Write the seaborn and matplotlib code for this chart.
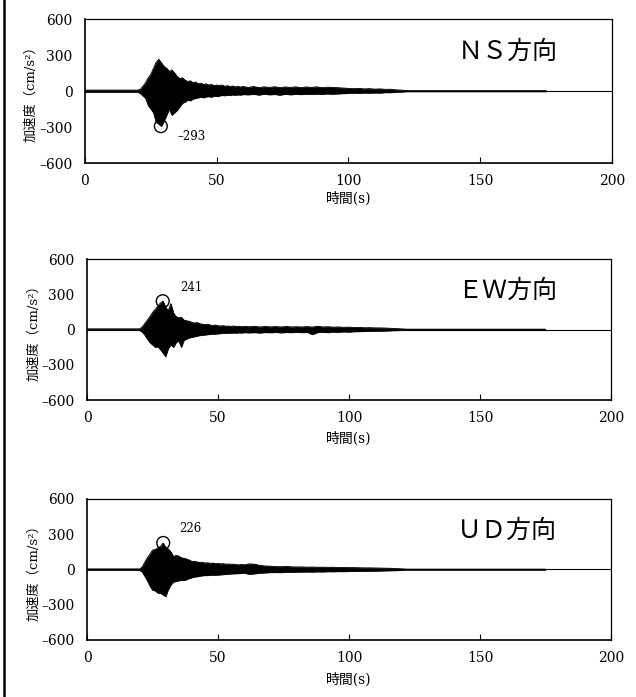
import numpy as np
import pandas as pd
import seaborn as sns
import matplotlib.pyplot as plt
from matplotlib.lines import Line2D

# time grid of the envelope readings (s)
t_env = [0, 20,
         21, 22, 23, 24, 25, 26, 27, 28, 29, 30,
         31, 32, 33, 34, 35, 36, 37, 38, 39, 40,
         41, 42, 43, 44, 45, 46, 47, 48, 49, 50,
         51, 52, 53, 54, 55, 56, 57, 58, 59, 60,
         62, 64, 66, 68, 70, 72, 74, 76, 78, 80,
         82, 84, 86, 88, 90, 92, 94, 96, 98, 100,
         102, 104, 106, 108, 110, 112, 114, 116, 118, 120,
         122, 175]

# envelope of the acceleration records (cm/s2)
ns_upper = [8, 8,
            15, 40, 70, 110, 140, 190, 240, 265, 235, 205,
            190, 165, 175, 150, 120, 105, 110, 90, 80, 85,
            70, 75, 60, 65, 55, 60, 50, 55, 45, 50,
            45, 50, 40, 45, 38, 42, 35, 40, 33, 38,
            30, 38, 28, 35, 30, 36, 28, 34, 30, 35,
            28, 34, 30, 35, 28, 32, 30, 28, 25, 22,
            20, 22, 18, 20, 16, 18, 14, 15, 10, 8,
            4, 4]
ns_lower = [-8, -8,
            -20, -40, -60, -120, -150, -180, -260, -275, -293, -250,
            -200, -150, -200, -180, -160, -130, -100, -90, -75, -80,
            -65, -60, -55, -50, -55, -47, -45, -50, -40, -45,
            -40, -35, -38, -33, -36, -30, -34, -30, -32, -28,
            -30, -26, -32, -25, -30, -27, -33, -25, -30, -26,
            -28, -25, -27, -24, -26, -22, -25, -22, -20, -18,
            -16, -18, -15, -16, -14, -15, -12, -12, -9, -7,
            -4, -4]

ew_upper = [6, 6,
            20, 50, 80, 110, 145, 170, 200, 225, 241, 190,
            160, 220, 140, 110, 100, 105, 80, 75, 70, 62,
            55, 60, 50, 45, 42, 45, 38, 35, 38, 32,
            30, 33, 28, 30, 26, 30, 25, 28, 24, 27,
            24, 27, 22, 26, 23, 25, 22, 26, 22, 24,
            22, 25, 21, 28, 22, 24, 20, 22, 18, 20,
            17, 18, 15, 16, 14, 14, 12, 10, 8, 6,
            3, 3]
ew_lower = [-6, -6,
            -20, -45, -80, -110, -130, -150, -145, -170, -200, -230,
            -160, -130, -150, -110, -95, -150, -90, -80, -70, -65,
            -60, -55, -50, -48, -45, -42, -40, -38, -37, -35,
            -33, -30, -32, -28, -30, -27, -29, -26, -28, -25,
            -27, -25, -28, -24, -26, -23, -27, -24, -25, -23,
            -25, -22, -42, -24, -22, -25, -20, -22, -18, -20,
            -17, -16, -15, -14, -13, -12, -11, -9, -8, -6,
            -3, -3]

ud_upper = [5, 5,
            20, 60, 100, 130, 165, 170, 185, 195, 226, 190,
            175, 150, 110, 120, 115, 100, 95, 90, 80, 70,
            68, 65, 60, 62, 55, 58, 52, 55, 50, 52,
            48, 50, 45, 47, 44, 45, 42, 40, 43, 40,
            48, 45, 35, 30, 28, 25, 24, 26, 23, 22,
            22, 20, 21, 19, 20, 18, 19, 17, 18, 16,
            16, 15, 14, 14, 13, 12, 11, 10, 8, 6,
            3, 3]
ud_lower = [-5, -5,
            -20, -55, -95, -140, -175, -180, -200, -200, -215, -230,
            -170, -130, -105, -100, -95, -90, -92, -85, -75, -68,
            -62, -60, -55, -52, -50, -50, -48, -46, -48, -45,
            -44, -42, -40, -38, -36, -35, -34, -33, -32, -30,
            -40, -35, -30, -27, -25, -24, -25, -22, -23, -21,
            -20, -19, -20, -18, -19, -17, -18, -16, -17, -15,
            -15, -14, -13, -13, -12, -11, -10, -9, -8, -6,
            -3, -3]

peak_time = [28.8, 28.9, 29.1]
peak_value = [-293, 241, 226]
peak_offset = [(17, -10), (17, 14), (16, 14)]   # label offset (px)
directions = ['ＮＳ方向', 'ＥＷ方向', 'ＵＤ方向']
xticks = [0, 50, 100, 150, 200]
yticks = [-600, -300, 0, 300, 600]


def dash(v):
    # en dash as minus sign, like the original
    return str(v).replace('-', '\u2013')


sns.set_theme(style='ticks', rc={'axes.edgecolor': 'black', 'xtick.color': 'black',
                                 'ytick.color': 'black', 'text.color': 'black',
                                 'axes.labelcolor': 'black'})
plt.rcParams['font.family'] = ['DejaVu Serif', 'Noto Sans CJK JP']

fig = plt.figure(figsize=(6.36, 6.97), dpi=100)
boxes = [[0.1336, 0.7661, 0.8286, 0.2066],
         [0.1368, 0.4261, 0.8239, 0.2023],
         [0.1368, 0.0818, 0.8239, 0.2023]]
xlab_y = [-0.20, -0.22, -0.227]
records = [(ns_upper, ns_lower), (ew_upper, ew_lower), (ud_upper, ud_lower)]

for i, (up, lo) in enumerate(records):
    ax = fig.add_axes(boxes[i])
    df = pd.DataFrame({'t': t_env, 'upper': up, 'lower': lo})
    ax.fill_between(df['t'], df['lower'], df['upper'], color='black', lw=0.4)
    sns.lineplot(data=df, x='t', y='upper', color='black', lw=0.6, ax=ax)
    sns.lineplot(data=df, x='t', y='lower', color='black', lw=0.6, ax=ax)
    ax.axhline(0, color='black', lw=0.8)

    sns.scatterplot(x=[peak_time[i]], y=[peak_value[i]], marker='o', s=85,
                    facecolor='none', edgecolor='black', linewidth=1.0, ax=ax, zorder=5)
    ax.annotate(dash(peak_value[i]),
                xy=(peak_time[i], peak_value[i]), xytext=peak_offset[i],
                textcoords='offset pixels', ha='left', va='center', fontsize=8.5)

    ax.text(0.897, 0.771, directions[i], transform=ax.transAxes, ha='right',
            va='center', fontsize=18, family=['Noto Sans CJK JP'])

    ax.set_xlim(0, 200)
    ax.set_ylim(-600, 600)
    ax.set_xticks(xticks)
    ax.set_yticks(yticks)
    ax.set_yticklabels([dash(v) for v in yticks])
    ax.tick_params(axis='x', direction='in', length=4, width=0.8, pad=8, labelsize=10)
    ax.tick_params(axis='y', length=0, pad=9, labelsize=10)
    ax.set_xlabel('時間(s)', fontsize=10)
    ax.set_ylabel('加速度（cm/s²）', fontsize=9.5)
    ax.xaxis.set_label_coords(0.5, xlab_y[i])
    ax.yaxis.set_label_coords(-0.09, 0.5)
    for side in ['left', 'bottom']:
        ax.spines[side].set_linewidth(1.2)
    for side in ['top', 'right']:
        ax.spines[side].set_linewidth(0.9)
        ax.spines[side].set_visible(True)

fig.add_artist(Line2D([0.007, 0.007], [0, 1], transform=fig.transFigure,
                      color='black', lw=1.8))

fig.savefig('out.png', dpi=100)
